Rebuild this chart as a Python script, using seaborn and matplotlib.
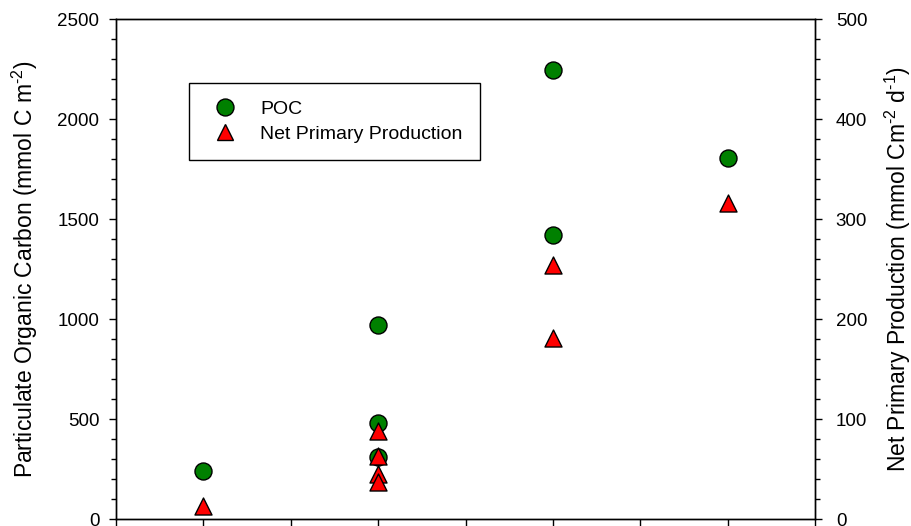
import matplotlib
matplotlib.use("Agg")
import matplotlib.pyplot as plt
from matplotlib.ticker import MultipleLocator, NullFormatter
from matplotlib.lines import Line2D
import seaborn as sns
import pandas as pd

# Station groups along the x axis
poc_x = [1, 3, 3, 3, 5, 5, 7]
poc_vals = [240, 970, 480, 310, 2245, 1420, 1805]          # mmol C m-2

npp_x = [1, 3, 3, 3, 3, 5, 5, 7]
npp_vals = [13, 88, 63, 45, 37, 254, 181, 316]             # mmol C m-2 d-1

poc_label = "POC"
npp_label = "Net Primary Production"

sns.set_theme(style="white")
plt.rcParams["font.family"] = ["Liberation Sans", "DejaVu Sans"]
plt.rcParams["mathtext.fontset"] = "custom"
plt.rcParams["mathtext.rm"] = "Liberation Sans"
plt.rcParams["mathtext.it"] = "Liberation Sans:italic"
plt.rcParams["text.color"] = "black"
plt.rcParams["axes.labelcolor"] = "black"
plt.rcParams["xtick.color"] = "black"
plt.rcParams["ytick.color"] = "black"

poc_df = pd.DataFrame({"x": poc_x, "v": poc_vals})
npp_df = pd.DataFrame({"x": npp_x, "v": npp_vals})

fig = plt.figure(figsize=(9.12, 5.26), dpi=100)
ax = fig.add_axes([116 / 912, 7 / 526, 699 / 912, 500 / 526])
ax2 = ax.twinx()

sns.scatterplot(data=poc_df, x="x", y="v", ax=ax, marker="o", s=150,
                color="#008000", edgecolor="black", linewidth=1.0,
                legend=False, zorder=3)
sns.scatterplot(data=npp_df, x="x", y="v", ax=ax2, marker="^", s=150,
                color="#ff0000", edgecolor="black", linewidth=1.0,
                legend=False, zorder=3)

ax.set_xlim(0, 8)
ax.set_ylim(0, 2500)
ax2.set_ylim(0, 500)

for a in (ax, ax2):
    for sp in a.spines.values():
        sp.set_visible(True)
        sp.set_color("black")
        sp.set_linewidth(1.0)

ax.xaxis.set_major_locator(MultipleLocator(1))
ax.xaxis.set_major_formatter(NullFormatter())
ax.yaxis.set_major_locator(MultipleLocator(500))
ax.yaxis.set_minor_locator(MultipleLocator(100))
ax2.yaxis.set_major_locator(MultipleLocator(100))
ax2.yaxis.set_minor_locator(MultipleLocator(20))

ax.tick_params(axis="x", which="major", direction="out", length=8, width=1.0,
               bottom=True, top=False, color="black")
ax.tick_params(axis="y", which="major", direction="out", length=5, width=1.0,
               left=True, right=False, labelsize=13.5, pad=7, color="black",
               labelcolor="black")
ax.tick_params(axis="y", which="minor", direction="out", length=3.5, width=1.0,
               left=True, right=False, color="black")
ax2.tick_params(axis="y", which="major", direction="out", length=5, width=1.0,
                right=True, left=False, labelsize=13.5, pad=10, color="black",
                labelcolor="black")
ax2.tick_params(axis="y", which="minor", direction="out", length=3.5, width=1.0,
                right=True, left=False, color="black")

ax.set_xlabel("")
ax.set_ylabel(r"Particulate Organic Carbon (mmol C m$^{\text{-2}}$)",
              fontsize=16.5, va="center", color="black")
ax2.set_ylabel(r"Net Primary Production (mmol Cm$^{\text{-2}}$ d$^{\text{-1}}$)",
               fontsize=16.5, va="center", color="black")
ax.yaxis.set_label_coords((25 - 116) / 699, 0.5)
ax2.yaxis.set_label_coords((898 - 116) / 699, 0.5)

handles = [
    Line2D([], [], linestyle="none", marker="o", markersize=12.2,
           markerfacecolor="#008000", markeredgecolor="black", markeredgewidth=1.0),
    Line2D([], [], linestyle="none", marker="^", markersize=12.2,
           markerfacecolor="#ff0000", markeredgecolor="black", markeredgewidth=1.0),
]
leg = ax2.legend(handles, [poc_label, npp_label], loc="upper left",
                 bbox_to_anchor=((189 - 116) / 699, (519 - 83) / 500),
                 borderaxespad=0, fontsize=14, frameon=True, fancybox=False,
                 edgecolor="black", framealpha=1, handlelength=1.88,
                 handletextpad=0.87, borderpad=0.9, labelspacing=0.36)
leg.get_frame().set_linewidth(1.0)
for t in leg.get_texts():
    t.set_color("black")

fig.savefig("out.png", dpi=100)
